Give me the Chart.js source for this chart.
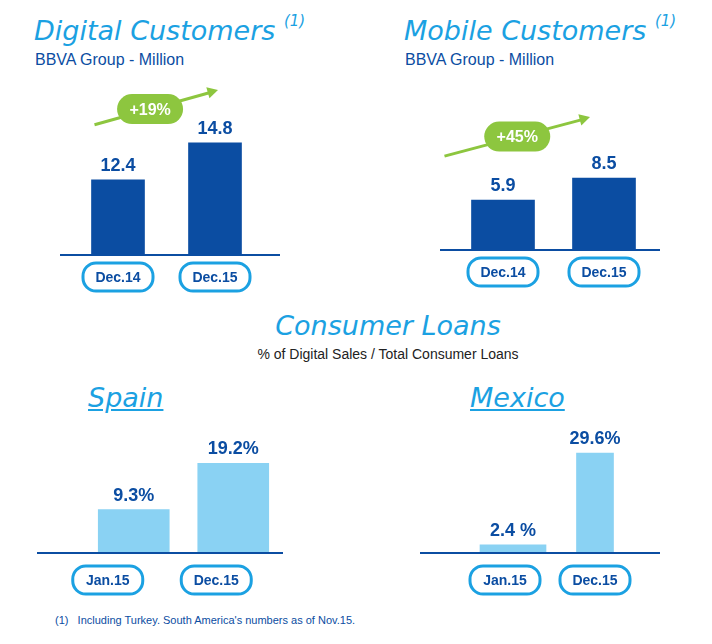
<!DOCTYPE html>
<html><head><meta charset="utf-8">
<script src="https://cdn.jsdelivr.net/npm/chart.js@4"></script>
<style>
body{margin:0;width:712px;height:644px;background:#fff;position:relative;overflow:hidden;font-family:"Liberation Sans",Arial,sans-serif}
.t{position:absolute;color:#1ba1e2;font-family:"DejaVu Sans";font-style:italic;font-size:27px;white-space:nowrap}
.t sup{font-size:15px;vertical-align:14px}
.s{position:absolute;color:#0b4da2;font-size:16px;white-space:nowrap}
.w{position:absolute}
</style></head><body>
<div class="t" style="left:34px;top:12px">Digital Customers <sup>(1)</sup></div>
<div class="s" style="left:35px;top:51px">BBVA Group - Million</div>
<div class="t" style="left:404px;top:12px">Mobile Customers <sup>(1)</sup></div>
<div class="s" style="left:405px;top:51px">BBVA Group - Million</div>
<div class="t" style="left:0;width:776px;text-align:center;top:310px">Consumer Loans</div>
<div class="s" style="left:0;width:776px;text-align:center;top:346px;color:#222;font-size:14px">% of Digital Sales / Total Consumer Loans</div>
<div class="t" style="left:88px;top:382px;text-decoration:underline">Spain</div>
<div class="t" style="left:470px;top:382px;text-decoration:underline">Mexico</div>
<div class="s" style="left:55px;top:614px;font-size:11px">(1)&nbsp;&nbsp;&nbsp;Including Turkey. South America's numbers as of Nov.15.</div>

<div class="w" style="left:60px;top:80px;width:220px;height:215px"><canvas id="c1"></canvas></div>
<div class="w" style="left:440px;top:80px;width:220px;height:210px"><canvas id="c2"></canvas></div>
<div class="w" style="left:37px;top:380px;width:246px;height:225px"><canvas id="c3"></canvas></div>
<div class="w" style="left:420px;top:380px;width:240px;height:225px"><canvas id="c4"></canvas></div>
<script>
const dcLabels = ["Dec.14", "Dec.15"];
const digitalValues = [12.4, 14.8];
const mobileValues = [5.9, 8.5];
const clLabels = ["Jan.15", "Dec.15"];
const spainValues = [9.3, 19.2];
const mexicoValues = [2.4, 29.6];

const DARK = "#0b4da2", LIGHT = "#8ad2f3", PILL = "#1ba1e2", GREEN = "#8dc63f";

function rr(ctx, x, y, w, h, r) {
  ctx.beginPath();
  ctx.roundRect(x, y, w, h, r);
}

const deco = {
  id: "deco",
  afterDraw(chart, args, o) {
    const ctx = chart.ctx, W = chart.width;
    const base = chart.scales.y.getPixelForValue(chart.scales.y.min);
    ctx.save();
    ctx.strokeStyle = DARK; ctx.lineWidth = 2;
    ctx.beginPath(); ctx.moveTo(0, base); ctx.lineTo(W, base); ctx.stroke();
    const bars = [];
    chart.data.datasets.forEach((ds, di) => {
      chart.getDatasetMeta(di).data.forEach((b, i) => {
        if (ds.data[i] != null) bars[i] = { x: b.x, y: b.y, w: b.width, v: ds.data[i] };
      });
    });
    ctx.fillStyle = DARK; ctx.textAlign = "center"; ctx.textBaseline = "alphabetic";
    ctx.font = "bold 18px 'Liberation Sans', Arial";
    bars.forEach((b, i) => ctx.fillText(o.fmt[i](b.v), b.x, b.y - 9));
    // category pills
    const dx = o.pillDx || [0, 0], dy = o.pillDy || 0;
    chart.data.labels.forEach((l, i) => {
      const x = chart.scales.x.getPixelForValue(i) + dx[i];
      ctx.strokeStyle = PILL; ctx.lineWidth = 3;
      rr(ctx, x - 35, base + 8 + dy, 70, 28, 13); ctx.stroke();
      ctx.fillStyle = DARK; ctx.font = "bold 14px 'Liberation Sans', Arial";
      ctx.textBaseline = "middle"; ctx.fillText(l, x, base + 23 + dy);
    });
    if (o.arrow) {
      const a = o.arrow, b0 = bars[0], b1 = bars[1];
      const x0 = b0.x - b0.w / 2 + a.dx0, y0 = b0.y + a.dy0;
      const x1 = b1.x + a.dx1, y1 = b1.y + a.dy1;
      ctx.strokeStyle = GREEN; ctx.fillStyle = GREEN; ctx.lineWidth = 3;
      ctx.beginPath(); ctx.moveTo(x0, y0); ctx.lineTo(x1 - 6, y1 + 2); ctx.stroke();
      const ang = Math.atan2(y1 - y0, x1 - x0);
      ctx.beginPath(); ctx.moveTo(x1, y1);
      ctx.lineTo(x1 - 12 * Math.cos(ang - 0.5), y1 - 12 * Math.sin(ang - 0.5));
      ctx.lineTo(x1 - 12 * Math.cos(ang + 0.5), y1 - 12 * Math.sin(ang + 0.5));
      ctx.closePath(); ctx.fill();
      const px = x0 + (x1 - x0) * a.t, py = y0 + (y1 - y0) * a.t;
      rr(ctx, px - 33, py - 15, 66, 30, 15); ctx.fill();
      ctx.fillStyle = "#fff"; ctx.font = "bold 16px 'Liberation Sans', Arial";
      ctx.textBaseline = "middle"; ctx.fillText(a.text, px, py + 1);
    }
    ctx.restore();
  }
};

function make(id, labels, datasets, min, max, pad, deco_opts) {
  new Chart(document.getElementById(id), {
    type: "bar",
    data: { labels, datasets },
    options: {
      responsive: true, maintainAspectRatio: false, animation: false,
      layout: { padding: pad },
      plugins: { legend: { display: false }, tooltip: { enabled: false }, deco: deco_opts },
      scales: {
        x: { display: false, stacked: true },
        y: { display: false, stacked: true, min, max }
      }
    },
    plugins: [deco]
  });
}

const f1 = v => v.toFixed(1);
const pct = v => v.toFixed(1) + "%";
make("c1", dcLabels, [{ data: digitalValues, backgroundColor: DARK, barThickness: 53 }],
  7.5, 18.9, { left: 9.5, right: 16.5, top: 0, bottom: 40 },
  { fmt: [f1, f1], arrow: { dx0: 3, dy0: -55, dx1: 3, dy1: -53, t: 0.45, text: "+19%" } });
make("c2", dcLabels, [{ data: mobileValues, backgroundColor: DARK, barThickness: 63 }],
  0, 20.1, { left: 12.5, right: 5.5, top: 0, bottom: 40 },
  { fmt: [f1, f1], arrow: { dx0: -27, dy0: -44, dx1: -14, dy1: -61, t: 0.5, text: "+45%" } });
make("c3", clLabels, [{ data: spainValues, backgroundColor: LIGHT, barThickness: 71 }],
  0, 37, { left: 47, right: 0, top: 0, bottom: 52 },
  { fmt: [pct, pct], pillDx: [-26, -17], pillDy: 5 });
make("c4", clLabels, [
  { data: [mexicoValues[0], null], backgroundColor: LIGHT, barThickness: 66 },
  { data: [null, mexicoValues[1]], backgroundColor: LIGHT, barThickness: 37 }
], 0, 51.2, { left: 52, right: 24, top: 0, bottom: 52 },
  { fmt: [v => v.toFixed(1) + " %", pct], pillDx: [-8, 0], pillDy: 5 });
</script>
</body></html>
